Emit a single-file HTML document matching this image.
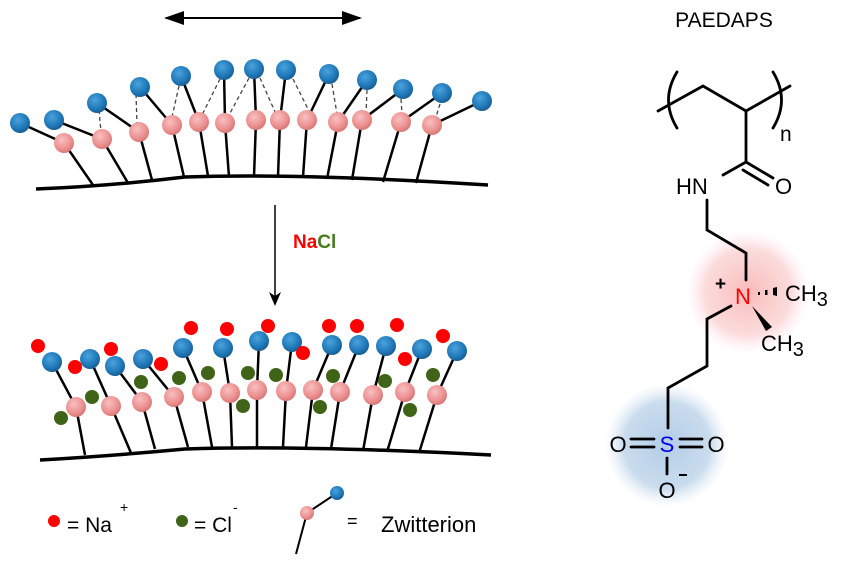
<!DOCTYPE html>
<html><head><meta charset="utf-8"><style>body{margin:0;background:#fff}svg{display:block}text{font-family:"Liberation Sans",Arial,sans-serif}</style></head><body>
<svg width="845" height="562" viewBox="0 0 845 562" xmlns="http://www.w3.org/2000/svg">
<defs>
<radialGradient id="gb" cx="0.4" cy="0.35" r="0.65"><stop offset="0" stop-color="#4aa3dc"/><stop offset="0.7" stop-color="#1f78b8"/><stop offset="1" stop-color="#1a5f95"/></radialGradient>
<radialGradient id="gp" cx="0.4" cy="0.35" r="0.65"><stop offset="0" stop-color="#f8c0c0"/><stop offset="0.7" stop-color="#ec9090"/><stop offset="1" stop-color="#d87878"/></radialGradient>
<radialGradient id="hr"><stop offset="0" stop-color="#f7a8a8" stop-opacity="0.8"/><stop offset="0.7" stop-color="#f9c4c4" stop-opacity="0.6"/><stop offset="1" stop-color="#fde" stop-opacity="0"/></radialGradient>
<radialGradient id="hb"><stop offset="0" stop-color="#9fc0e0" stop-opacity="0.8"/><stop offset="0.7" stop-color="#b3cde6" stop-opacity="0.7"/><stop offset="1" stop-color="#d5e4f2" stop-opacity="0"/></radialGradient>
</defs>
<line x1="166" y1="18" x2="360" y2="18" stroke="#000" stroke-width="2"/>
<path d="M164,18 L184,11 L184,25 Z" fill="#000"/><path d="M362,18 L342,11 L342,25 Z" fill="#000"/>
<path d="M36,189 Q110,186 185,177 Q300,173 488,185" stroke="#000" stroke-width="3.5" fill="none"/>
<g stroke="#000" stroke-width="2.5">
<line x1="93" y1="185" x2="64" y2="143"/><line x1="128" y1="183" x2="102" y2="139"/><line x1="152" y1="180" x2="139" y2="132"/><line x1="184" y1="177" x2="172" y2="125"/><line x1="208" y1="176" x2="199" y2="122"/><line x1="229" y1="177" x2="225" y2="123"/><line x1="254" y1="177" x2="256" y2="120"/><line x1="278" y1="177" x2="280" y2="120"/><line x1="303" y1="177" x2="307" y2="120"/><line x1="327" y1="179" x2="338" y2="122"/><line x1="352" y1="180" x2="362" y2="120"/><line x1="383" y1="182" x2="401" y2="122"/><line x1="416" y1="183" x2="432" y2="125"/>
<line x1="64" y1="143" x2="20" y2="123"/><line x1="102" y1="139" x2="54" y2="120"/><line x1="139" y1="132" x2="97" y2="103"/><line x1="172" y1="125" x2="140" y2="87"/><line x1="199" y1="122" x2="181" y2="76"/><line x1="225" y1="123" x2="224" y2="70"/><line x1="256" y1="120" x2="254" y2="69"/><line x1="280" y1="120" x2="286" y2="70"/><line x1="307" y1="120" x2="329" y2="74"/><line x1="338" y1="122" x2="367" y2="80"/><line x1="362" y1="120" x2="403" y2="89"/><line x1="401" y1="122" x2="442" y2="93"/><line x1="432" y1="125" x2="482" y2="101"/>
</g>
<g stroke="#444" stroke-width="1.3" stroke-dasharray="4,3">
<line x1="99" y1="110" x2="101" y2="132"/><line x1="136" y1="94" x2="137" y2="124"/><line x1="179" y1="86" x2="172" y2="117"/><line x1="220" y1="79" x2="202" y2="115"/><line x1="249" y1="78" x2="229" y2="115"/><line x1="260" y1="78" x2="276" y2="114"/><line x1="293" y1="79" x2="310" y2="113"/><line x1="332" y1="84" x2="337" y2="114"/><line x1="367" y1="90" x2="366" y2="114"/><line x1="401" y1="99" x2="402" y2="114"/><line x1="440" y1="104" x2="436" y2="117"/>
</g>
<g fill="url(#gp)">
<circle cx="64" cy="143" r="10"/><circle cx="102" cy="139" r="10"/><circle cx="139" cy="132" r="10"/><circle cx="172" cy="125" r="10"/><circle cx="199" cy="122" r="10"/><circle cx="225" cy="123" r="10"/><circle cx="256" cy="120" r="10"/><circle cx="280" cy="120" r="10"/><circle cx="307" cy="120" r="10"/><circle cx="338" cy="122" r="10"/><circle cx="362" cy="120" r="10"/><circle cx="401" cy="122" r="10"/><circle cx="432" cy="125" r="10"/>
</g>
<g fill="url(#gb)">
<circle cx="20" cy="123" r="10"/><circle cx="54" cy="120" r="10"/><circle cx="97" cy="103" r="10"/><circle cx="140" cy="87" r="10"/><circle cx="181" cy="76" r="10"/><circle cx="224" cy="70" r="10"/><circle cx="254" cy="69" r="10"/><circle cx="286" cy="70" r="10"/><circle cx="329" cy="74" r="10"/><circle cx="367" cy="80" r="10"/><circle cx="403" cy="89" r="10"/><circle cx="442" cy="93" r="10"/><circle cx="482" cy="101" r="10"/>
</g>
<line x1="275" y1="205" x2="275" y2="296" stroke="#000" stroke-width="1.5"/>
<path d="M275,306 L269,292 L275,296 L281,292 Z" fill="#000"/>
<text x="293" y="248" font-size="19" font-weight="bold"><tspan fill="#f00">Na</tspan><tspan fill="#4a7a1e">Cl</tspan></text>
<path d="M40,460 Q110,456 185,449 Q300,445 491,455" stroke="#000" stroke-width="3.5" fill="none"/>
<g stroke="#000" stroke-width="2.5">
<line x1="85" y1="455" x2="76" y2="407"/><line x1="131" y1="453" x2="111" y2="406"/><line x1="155" y1="449" x2="142" y2="402"/><line x1="188" y1="447" x2="174" y2="397"/><line x1="212" y1="447" x2="202" y2="392"/><line x1="232" y1="447" x2="230" y2="393"/><line x1="257" y1="447" x2="257" y2="390"/><line x1="283" y1="447" x2="286" y2="391"/><line x1="306" y1="447" x2="313" y2="390"/><line x1="331" y1="449" x2="340" y2="392"/><line x1="363" y1="451" x2="373" y2="395"/><line x1="387" y1="452" x2="405" y2="392"/><line x1="419" y1="453" x2="437" y2="395"/>
<line x1="76" y1="407" x2="52" y2="362"/><line x1="111" y1="406" x2="90" y2="359"/><line x1="142" y1="402" x2="115" y2="366"/><line x1="174" y1="397" x2="143" y2="359"/><line x1="202" y1="392" x2="183" y2="348"/><line x1="230" y1="393" x2="223" y2="348"/><line x1="257" y1="390" x2="259" y2="341"/><line x1="286" y1="391" x2="292" y2="342"/><line x1="313" y1="390" x2="332" y2="345"/><line x1="340" y1="392" x2="359" y2="345"/><line x1="373" y1="395" x2="386" y2="346"/><line x1="405" y1="392" x2="422" y2="349"/><line x1="437" y1="395" x2="457" y2="351"/>
</g>
<g fill="url(#gp)">
<circle cx="76" cy="407" r="10"/><circle cx="111" cy="406" r="10"/><circle cx="142" cy="402" r="10"/><circle cx="174" cy="397" r="10"/><circle cx="202" cy="392" r="10"/><circle cx="230" cy="393" r="10"/><circle cx="257" cy="390" r="10"/><circle cx="286" cy="391" r="10"/><circle cx="313" cy="390" r="10"/><circle cx="340" cy="392" r="10"/><circle cx="373" cy="395" r="10"/><circle cx="405" cy="392" r="10"/><circle cx="437" cy="395" r="10"/>
</g>
<g fill="url(#gb)">
<circle cx="52" cy="362" r="10"/><circle cx="90" cy="359" r="10"/><circle cx="115" cy="366" r="10"/><circle cx="143" cy="359" r="10"/><circle cx="183" cy="348" r="10"/><circle cx="223" cy="348" r="10"/><circle cx="259" cy="341" r="10"/><circle cx="292" cy="342" r="10"/><circle cx="332" cy="345" r="10"/><circle cx="359" cy="345" r="10"/><circle cx="386" cy="346" r="10"/><circle cx="422" cy="349" r="10"/><circle cx="457" cy="351" r="10"/>
</g>
<g fill="#f00">
<circle cx="38" cy="346" r="7"/><circle cx="75" cy="367" r="7"/><circle cx="111" cy="349" r="7"/><circle cx="161" cy="364" r="7"/><circle cx="191" cy="328" r="7"/><circle cx="227" cy="329" r="7"/><circle cx="268" cy="326" r="7"/><circle cx="303" cy="353" r="7"/><circle cx="329" cy="326" r="7"/><circle cx="357" cy="326" r="7"/><circle cx="397" cy="325" r="7"/><circle cx="405" cy="359" r="7"/><circle cx="443" cy="336" r="7"/>
</g>
<g fill="#3f6418">
<circle cx="61" cy="418" r="7"/><circle cx="92" cy="397" r="7"/><circle cx="141" cy="382" r="7"/><circle cx="179" cy="378" r="7"/><circle cx="208" cy="373" r="7"/><circle cx="243" cy="406" r="7"/><circle cx="248" cy="373" r="7"/><circle cx="276" cy="375" r="7"/><circle cx="320" cy="407" r="7"/><circle cx="333" cy="376" r="7"/><circle cx="385" cy="381" r="7"/><circle cx="410" cy="410" r="7"/><circle cx="433" cy="375" r="7"/>
</g>
<circle cx="54" cy="521" r="6" fill="#f00"/>
<text x="67" y="532" font-size="21">= Na</text><text x="120" y="512" font-size="14">+</text>
<circle cx="182" cy="521" r="6" fill="#3f6418"/>
<text x="194" y="532" font-size="21">= Cl</text><text x="233" y="512" font-size="14">-</text>
<line x1="307" y1="513" x2="296" y2="554" stroke="#000" stroke-width="2"/>
<line x1="307" y1="513" x2="337" y2="493" stroke="#000" stroke-width="2"/>
<circle cx="307" cy="513" r="7" fill="url(#gp)"/><circle cx="337" cy="493" r="7" fill="url(#gb)"/>
<text x="347" y="527" font-size="18">=</text>
<text x="381" y="532" font-size="22">Zwitterion</text>
<circle cx="748" cy="292" r="62" fill="url(#hr)"/>
<circle cx="667" cy="445" r="62" fill="url(#hb)"/>
<text x="724" y="27" font-size="21" text-anchor="middle">PAEDAPS</text>
<g stroke="#000" stroke-width="2.8" fill="none" stroke-linecap="round">
<polyline points="658,111 703,86 746,111 790,86"/>
<path d="M677,72 Q660,100 677,128"/><path d="M773,72 Q790,100 773,128"/>
<line x1="746" y1="111" x2="746" y2="162"/>
<line x1="746" y1="162" x2="723" y2="175"/>
<line x1="746" y1="162" x2="773" y2="178"/><line x1="743" y1="170" x2="768" y2="185"/>
<polyline points="707,200 707,230 746,253 746,280"/>
<polyline points="731,306 707,319 707,366 668,388 668,428"/>
<line x1="667" y1="458" x2="667" y2="474"/>
<line x1="631" y1="439" x2="654" y2="439"/><line x1="631" y1="447" x2="654" y2="447"/>
<line x1="680" y1="439" x2="702" y2="439"/><line x1="680" y1="447" x2="702" y2="447"/>
</g>
<text x="780" y="141" font-size="21">n</text>
<text x="676" y="194" font-size="22">HN</text>
<text x="775" y="194" font-size="22">O</text>
<text x="735" y="304" font-size="22" fill="#f00">N</text>
<text x="715" y="290" font-size="19" font-weight="bold">+</text>
<g fill="#000"><rect x="758" y="292" width="2" height="3"/><rect x="765" y="290" width="2.5" height="5"/><path d="M773,288 L777,287 L777,296 L773,295 Z"/></g>
<text x="785" y="301" font-size="22">CH<tspan dy="5" font-size="20">3</tspan></text>
<path d="M752,306 L772,327 L766,331 Z" fill="#000"/>
<text x="761" y="351" font-size="22">CH<tspan dy="5" font-size="20">3</tspan></text>
<text x="667" y="452" font-size="22" fill="#0000ee" text-anchor="middle">S</text>
<text x="618" y="452" font-size="22" text-anchor="middle">O</text>
<text x="716" y="452" font-size="22" text-anchor="middle">O</text>
<text x="667" y="498" font-size="22" text-anchor="middle">O</text>
<line x1="679" y1="475" x2="687" y2="475" stroke="#000" stroke-width="2"/>
</svg>
</body></html>
